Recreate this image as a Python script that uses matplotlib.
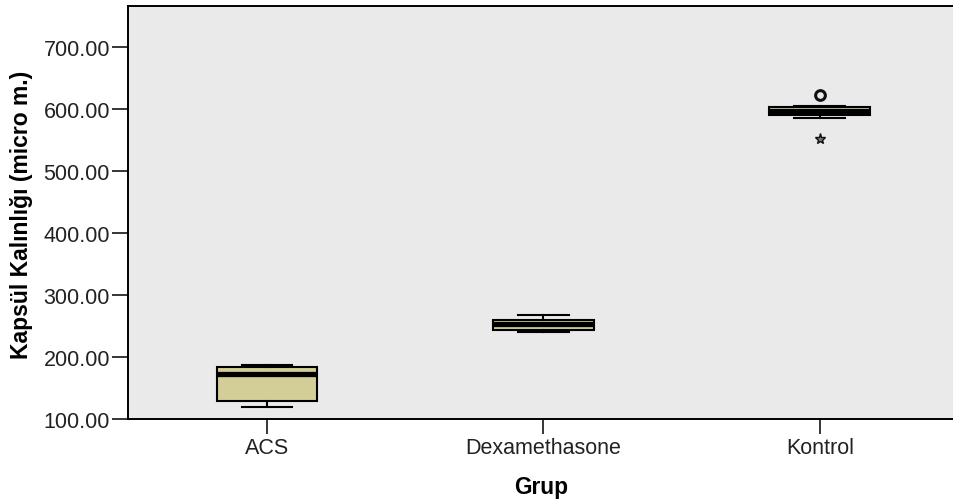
import matplotlib
matplotlib.use('Agg')
import matplotlib.pyplot as plt

# ---- data ----
groups = ['ACS', 'Dexamethasone', 'Kontrol']
whisker_low = [119, 240, 585]
q1 = [129, 243, 590]
median = [173, 254, 597]
q3 = [184, 260, 603]
whisker_high = [187, 267, 604]
outliers = [[], [], [622.5]]      # circles
extremes = [[], [], [551.5]]      # stars
yticks = [100, 200, 300, 400, 500, 600, 700]

plt.rcParams['font.family'] = ['Liberation Sans', 'DejaVu Sans']

W, H = 954, 502
fig = plt.figure(figsize=(W / 100, H / 100), dpi=100)
ax = fig.add_axes([128 / W, 82 / H, (954 - 128) / W, 413 / H])
ax.set_facecolor('#EAEAEA')

positions = [1, 2, 3]
stats = []
for i, g in enumerate(groups):
    stats.append(dict(label=g, med=median[i], q1=q1[i], q3=q3[i],
                      whislo=whisker_low[i], whishi=whisker_high[i],
                      fliers=outliers[i]))

lw = 1.5
ax.bxp(stats, positions=positions, widths=0.365, capwidths=0.184,
       patch_artist=True,
       boxprops=dict(facecolor='#D3CE97', edgecolor='black', linewidth=lw),
       medianprops=dict(color='black', linewidth=3.8, solid_capstyle='butt'),
       whiskerprops=dict(color='black', linewidth=lw),
       capprops=dict(color='black', linewidth=lw),
       flierprops=dict(marker='o', markerfacecolor='none',
                       markeredgecolor='#111111', markersize=7,
                       markeredgewidth=2.2, linestyle='none'))

for i, ex in enumerate(extremes):
    if ex:
        ax.plot([positions[i]] * len(ex), ex, linestyle='none', marker='*',
                markersize=8, markerfacecolor='#777777',
                markeredgecolor='#111111', markeredgewidth=1.0)

ax.set_xlim(0.497, 3.485)
ax.set_ylim(100, 766)
ax.set_yticks(yticks)
ax.set_yticklabels([f'{v:.2f}' for v in yticks])
ax.set_xticks(positions)
ax.set_xticklabels(groups)

ax.tick_params(axis='y', length=11.5, width=1.1, pad=1.5, labelsize=15.5,
               colors='black', labelcolor='#222222')
ax.tick_params(axis='x', length=11, width=1.1, pad=2, labelsize=15.5,
               colors='black', labelcolor='#222222')

for s in ['left', 'bottom', 'top']:
    ax.spines[s].set_linewidth(1.4)
    ax.spines[s].set_color('black')
ax.spines['right'].set_visible(False)

ax.set_xlabel('Grup', fontsize=16.3, fontweight='bold')
ax.set_ylabel('Kapsül Kalınlığı (micro m.)', fontsize=16.5, fontweight='bold')
ax.xaxis.set_label_coords(0.5, -0.136)
ax.yaxis.set_label_coords(-0.115, 0.496)

fig.savefig('out.png', dpi=100)
